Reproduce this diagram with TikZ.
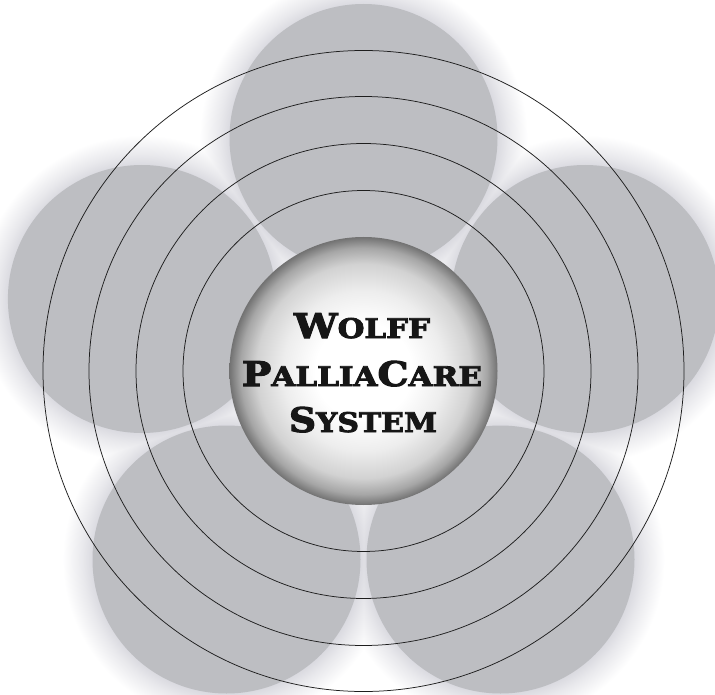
\documentclass[tikz,border=0pt]{standalone}
\usepackage{fontspec}
\usepackage{graphicx}
\newfontfamily\capfont{DejaVu Serif Bold}[FakeBold=3]
\definecolor{petalc}{HTML}{BDBEC2}
\definecolor{haloc}{HTML}{DADAE0}
\definecolor{ringc}{HTML}{1E1E1E}
\definecolor{txtc}{HTML}{161616}
\definecolor{sa}{HTML}{EDEDED}
\definecolor{sb}{HTML}{D2D2D2}
\definecolor{sc}{HTML}{A6A6A6}
\definecolor{sd}{HTML}{727272}
\pgfdeclareradialshading{haloshade}{\pgfpoint{0bp}{0bp}}{color(0bp)=(haloc); color(20.4bp)=(haloc); color(22bp)=(haloc!60!white); color(25bp)=(white); color(50bp)=(white)}
\pgfdeclareradialshading{sphereshade}{\pgfpoint{0bp}{0bp}}{color(0bp)=(white); color(9bp)=(white); color(15bp)=(sa); color(20bp)=(sb); color(23bp)=(sc); color(25bp)=(sd); color(50bp)=(sd)}
\newcommand{\wbig}[1]{{\fontsize{34}{34}\selectfont #1}}
\newcommand{\wsmall}[1]{{\fontsize{27}{27}\selectfont #1}}
\tikzset{
  petal/.style={fill=petalc},
  ring/.style={draw=ringc, line width=0.75pt},
  title/.style={anchor=base, inner sep=0pt, text=txtc, font=\capfont}
}
\begin{document}
\begin{tikzpicture}[x=1pt,y=-1pt]
\useasboundingbox (0,0) rectangle (715,695);
\fill[white] (0,0) rectangle (715,695);
\coordinate (C) at (363.5,371);
\coordinate (p1) at (363.5,138);
\coordinate (p2) at (141.9,299);
\coordinate (p3) at (226.5,559.5);
\coordinate (p4) at (500.5,559.5);
\coordinate (p5) at (585.1,299);
\begin{scope}[blend mode=darken]
\foreach \n in {p1,p2,p3,p4,p5}
  \shade[shading=haloshade] (\n) circle (164);
\end{scope}
\foreach \n in {p1,p2,p3,p4,p5}
  \fill[petal] (\n) circle (134);
\foreach \r in {180.5,227.5,274.5,320.5}
  \draw[ring] (C) circle (\r);
\shade[shading=sphereshade] (C) circle (134);
\node[title] (t1) at (362,338) {\resizebox{136pt}{\height}{\wbig{W}\wsmall{OLFF}}};
\node[title] (t2) at (362,386) {\resizebox{240pt}{\height}{\wbig{P}\wsmall{ALLIA}\wbig{C}\wsmall{ARE}}};
\node[title] (t3) at (363,432) {\resizebox{148pt}{\height}{\wbig{S}\wsmall{YSTEM}}};
\end{tikzpicture}
\end{document}
